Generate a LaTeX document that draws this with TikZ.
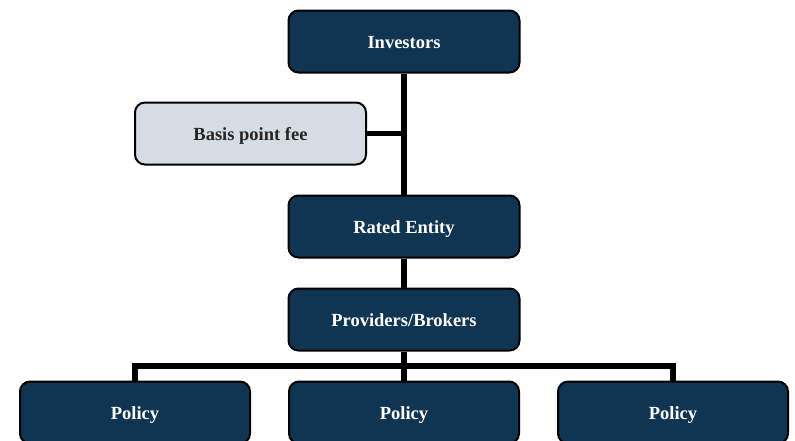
\documentclass[tikz,border=0pt]{standalone}
\usepackage{fontspec}
\setmainfont{Liberation Serif}
\definecolor{boxnavy}{HTML}{0F3552}
\definecolor{boxgrey}{HTML}{D6DCE4}

\def\boxWidth{231}
\def\boxHeight{62}

\tikzset{
  darkbox/.style = {draw = black, line width = 2pt, rounded corners = 10pt,
    fill = boxnavy, text = white, font = \fontsize{18.5}{22}\selectfont\bfseries,
    text height = 16pt, text depth = 2pt,
    minimum width = \boxWidth pt, minimum height = \boxHeight pt, inner sep = 0pt},
  lightbox/.style = {darkbox, fill = boxgrey, text = black!85},
  policybox/.style = {darkbox, minimum width = 230pt},
  link/.style = {line width = 5.5pt, black}
}

\begin{document}
\begin{tikzpicture}[x = 1pt, y = -1pt]
            \useasboundingbox (0,0) rectangle (795,440);
            %% top of the chain
            \node [darkbox] (investors) at (404,41.5) {Investors}
            ;
            \node [lightbox] (fee) at (250.5,133.5) {Basis point fee}
            ;
            \node [darkbox] (rated) at (404,226.5) {Rated Entity}
            ;
            \node [darkbox] (providers) at (404,319.5) {Providers/Brokers}
            ;
            %% policies (cut off by the page edge)
            \node [policybox] (policyA) at (135,412.5) {Policy}
            ;
            \node [policybox] (policyB) at (404,412.5) {Policy}
            ;
            \node [policybox] (policyC) at (673,412.5) {Policy}
            ;
            \coordinate (bus) at (404,366);
            %% links
            \draw [link]
            (investors.south) -- (rated.north)
            ;
            \draw [link]
            (fee.east) -- (fee.east -| investors.south)
            ;
            \draw [link]
            (rated.south) -- (providers.north)
            ;
            \draw [link]
            (providers.south) -- (bus) -- (policyB.north)
            ;
            \draw [link, line join = miter]
            (policyA.north) |- (bus) -| (policyC.north)
            ;
        \end{tikzpicture}
\end{document}
